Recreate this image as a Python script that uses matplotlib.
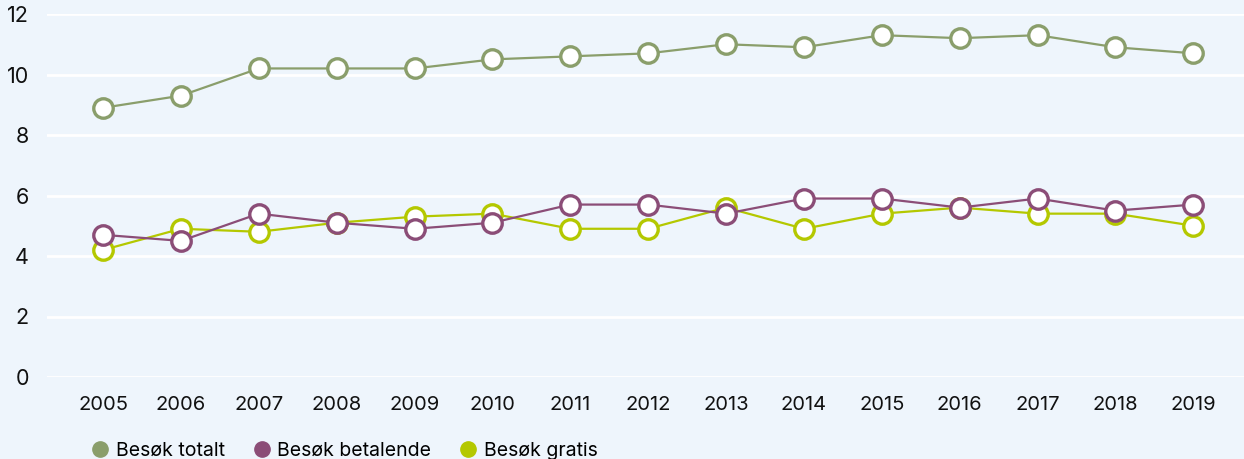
import matplotlib
matplotlib.use('Agg')
import matplotlib.pyplot as plt
from matplotlib.lines import Line2D

years = list(range(2005, 2020))
besok_totalt = [8.9, 9.3, 10.2, 10.2, 10.2, 10.5, 10.6, 10.7, 11.0, 10.9, 11.3, 11.2, 11.3, 10.9, 10.7]
besok_betalende = [4.7, 4.5, 5.4, 5.1, 4.9, 5.1, 5.7, 5.7, 5.4, 5.9, 5.9, 5.6, 5.9, 5.5, 5.7]
besok_gratis = [4.2, 4.9, 4.8, 5.1, 5.3, 5.4, 4.9, 4.9, 5.6, 4.9, 5.4, 5.6, 5.4, 5.4, 5.0]

labels = ["Besøk totalt", "Besøk betalende", "Besøk gratis"]
colors = ["#8a9e6b", "#8b4d77", "#b4c800"]
bg = "#eef5fc"

plt.rcParams['font.family'] = ['Inter', 'DejaVu Sans']

fig = plt.figure(figsize=(12.44, 4.59), dpi=100, facecolor=bg)
ax = fig.add_axes([47 / 1244, 1 - 377 / 459, 1 - 47 / 1244, (377 - 14) / 459])
ax.set_facecolor(bg)

# gratis drawn first, then betalende, then totalt on top
for series, col in [(besok_gratis, colors[2]), (besok_betalende, colors[1]), (besok_totalt, colors[0])]:
    ax.plot(years, series, color=col, linewidth=1.6, marker='o', markersize=14,
            markerfacecolor='white', markeredgecolor=col, markeredgewidth=2.4,
            clip_on=False, zorder=3)

ax.set_ylim(0, 12)
ax.set_xlim(2004.28, 2019.65)
ax.set_yticks(range(0, 13, 2))
ax.set_xticks(years)
ax.grid(axis='y', color='white', linewidth=2)
ax.set_axisbelow(True)
for s in ax.spines.values():
    s.set_visible(False)
ax.tick_params(axis='both', length=0, labelsize=14.5, colors='#111111')
ax.tick_params(axis='y', labelsize=15.5, pad=13)
ax.tick_params(axis='x', pad=14)

handles = [Line2D([], [], linestyle='none', marker='o', markersize=11,
                  markerfacecolor=c, markeredgecolor=c) for c in colors]
fig.legend(handles, labels, loc='lower left', bbox_to_anchor=(73 / 1244, -0.04),
           ncol=3, frameon=False, fontsize=14, handletextpad=0.3,
           columnspacing=1.4, handlelength=1.0)

fig.savefig('out.png', dpi=100, facecolor=bg)
